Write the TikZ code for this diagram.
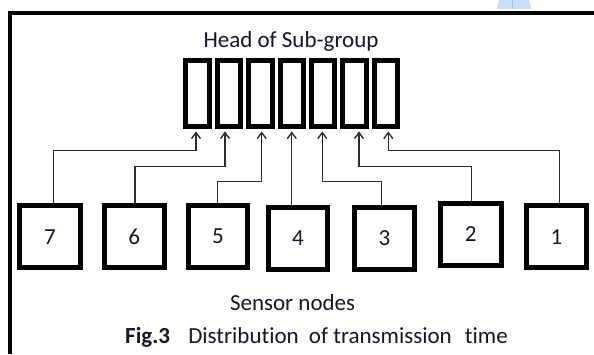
\documentclass[tikz,border=0pt]{standalone}
\usepackage{fontspec}
\setmainfont{Carlito}[Ligatures={NoCommon}]
\usetikzlibrary{arrows.meta,calc}
\definecolor{ink}{RGB}{22,22,44}
\definecolor{wire}{RGB}{45,45,45}
\definecolor{dome}{RGB}{200,222,250}
\definecolor{domeline}{RGB}{160,195,240}
\begin{document}
\begin{tikzpicture}[x=1pt,y=-1pt,
  slot/.style={draw=black, line width=5pt, minimum width=23.5pt, minimum height=65.7pt, inner sep=0pt},
  sensor/.style={draw=black, line width=5pt, minimum width=60pt, minimum height=62pt, inner sep=0pt,
                 font=\fontsize{23}{26}\selectfont, text=ink},
  conn/.style={draw=wire, line width=1.4pt, -{Straight Barb[length=6pt,width=9pt]}},
  lbl/.style={font=\fontsize{23}{26}\selectfont, text=ink, inner sep=0pt}]

% page area
\fill[white] (0,0) rectangle (594,354);
\useasboundingbox (0,0) rectangle (594,354);

% light blue dome at the top edge
\begin{scope}
  \clip (0,0) rectangle (594,8.5);
  \fill[dome] (514,8.5) circle [radius=17pt];
  \draw[domeline, line width=0.6pt] (512,0) -- (512,8.5);
\end{scope}

% frame
\draw[black, line width=4pt] (9.5,354) -- (9.5,12.5) -- (594,12.5);

% head of sub-group: seven time slots
\foreach \i in {1,...,7}
  \node[slot] (h\i) at ({197.55+31.4*(\i-1)},93.6) {};

\node[lbl, anchor=base] (head) at (291,47) {Head of Sub-group};

% sensor nodes
\node[sensor, minimum width=60.4pt, minimum height=61.7pt] (s7) at (50,236.7) {7};
\node[sensor, minimum width=60pt,   minimum height=62pt]   (s6) at (134.2,236.5) {6};
\node[sensor, minimum width=59pt,   minimum height=62pt]   (s5) at (218,236.5) {5};
\node[sensor, minimum width=59pt,   minimum height=62pt]   (s4) at (298,238.5) {4};
\node[sensor, minimum width=60pt,   minimum height=62pt]   (s3) at (384.5,238) {3};
\node[sensor, minimum width=61pt,   minimum height=62.6pt] (s2) at (470.8,234.5) {2};
\node[sensor, minimum width=60pt,   minimum height=61.7pt] (s1) at (556.5,236.7) {1};

% arrow tips at the bottom of the slots
\coordinate (t1) at ([xshift=-1.55pt,yshift=-2.5pt]h1.south);
\coordinate (t2) at ([xshift=-3.95pt,yshift=-2.5pt]h2.south);
\coordinate (t3) at ([xshift=1.35pt,yshift=-2.5pt]h3.south);
\coordinate (t4) at ([xshift=0pt,yshift=-2.5pt]h4.south);
\coordinate (t5) at ([xshift=-0.85pt,yshift=-2.5pt]h5.south);
\coordinate (t6) at ([xshift=4.45pt,yshift=-2.5pt]h6.south);
\coordinate (t7) at ([xshift=2.35pt,yshift=-2.5pt]h7.south);

% connectors
\draw[conn] (s7.north -| 53.3,0)  |- (t1 |- 0,150.7) -- (t1);
\draw[conn] (s6.north -| 135,0)   |- (t2 |- 0,166.7) -- (t2);
\draw[conn] (s5.north -| 217.7,0) |- (t3 |- 0,181.5) -- (t3);
\draw[conn] (s4.north -| t4) -- (t4);
\draw[conn] (s3.north -| 381.7,0) |- (t5 |- 0,181.5) -- (t5);
\draw[conn] (s2.north -| 471.7,0) |- (t6 |- 0,166.7) -- (t6);
\draw[conn] (s1.north -| 559.5,0) |- (t7 |- 0,150.7) -- (t7);

% texts below
\node[lbl, anchor=base] (sn) at (292.6,310) {Sensor nodes};
\node[lbl, anchor=base west] (cap) at (125,343.3)
  {\textbf{Fig.3}\hspace{13pt} Distribution\hspace{5pt} of transmission\hspace{8pt} time};
\end{tikzpicture}
\end{document}
